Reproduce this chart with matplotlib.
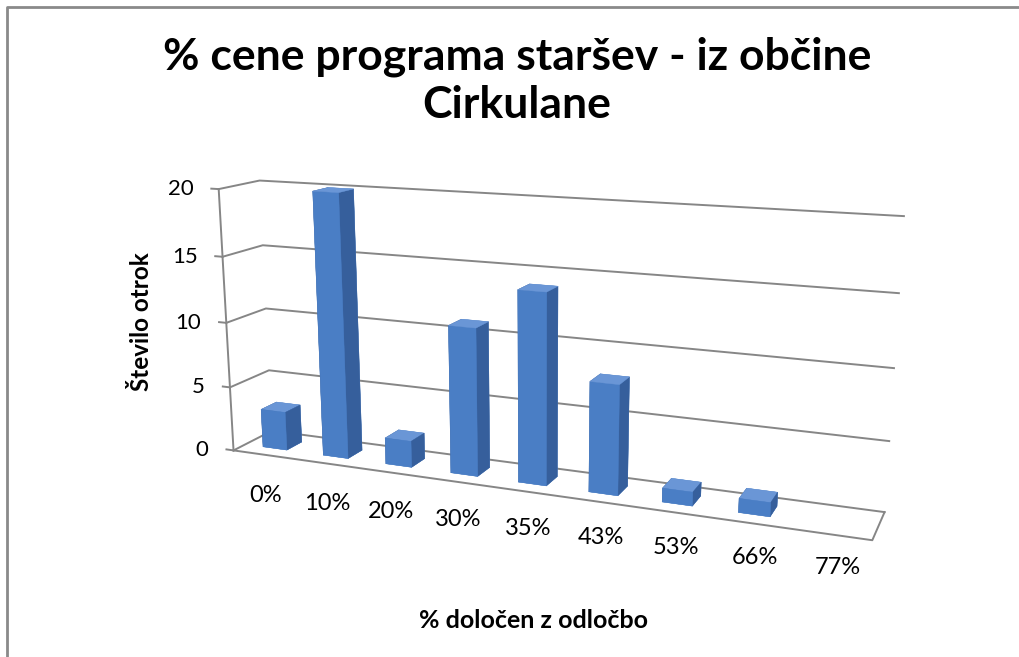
import matplotlib
matplotlib.use('Agg')
import matplotlib.pyplot as plt
import numpy as np
from mpl_toolkits.mplot3d import Axes3D, proj3d  # noqa

categories = ['0%', '10%', '20%', '30%', '35%', '43%', '53%', '66%', '77%']
values = [3, 20, 2, 11, 14, 8, 1, 1, 0]
value_ticks = [0, 5, 10, 15, 20]

title = '% cene programa staršev - iz občine\nCirkulane'
xlabel = '% določen z odločbo'
ylabel = 'Število otrok'

FONT = ['Lato', 'DejaVu Sans']
GRID = '#868686'
FRONT = '#4A7EC5'
SIDE = '#365F9C'
TOP = '#6A96D6'

W, H = 1020, 657
fig = plt.figure(figsize=(W / 100, H / 100), dpi=100)

S = 900
cx, cy = 538, 344
ax = fig.add_axes([(cx - 0.5135 * S) / W, (H - cy - 0.5135 * S) / H, S / W, S / H],
                  projection='3d', computed_zorder=False)
zoom = 0.806
ax.set_proj_type('persp', focal_length=0.348 * zoom)
ax.set_box_aspect((9, 1, 3.75), zoom=zoom)
ax.view_init(elev=14, azim=-68)
ax.set_axis_off()
n = len(categories)
ax.set_xlim(0, n)
ax.set_ylim(0, 1)
ax.set_zlim(0, 20)

# gridlines on side wall and back wall
for z in value_ticks:
    ax.plot([0, 0, n], [0, 1, 1], [z, z, z], color=GRID, lw=1.4, zorder=1)
# floor outline
ax.plot([0, n, n], [0, 0, 1], [0, 0, 0], color=GRID, lw=1.4, zorder=1)
# value axis line and ticks
ax.plot([0, 0], [0, 0], [0, 20], color=GRID, lw=1.4, zorder=1)
for z in value_ticks:
    ax.plot([-0.12, 0], [0, 0], [z, z], color=GRID, lw=1.4, zorder=1)

# bars
bw = 0.4
xs, ys, zs, dx, dy, dz, cols = [], [], [], [], [], [], []
for i, v in enumerate(values):
    if v <= 0:
        continue
    xs.append(i + 0.5 - bw / 2)
    ys.append(0.5 - bw / 2)
    zs.append(0)
    dx.append(bw)
    dy.append(bw)
    dz.append(v)
    cols.extend([FRONT, TOP, FRONT, FRONT, SIDE, SIDE])
ax.bar3d(xs, ys, zs, dx, dy, dz, color=cols, shade=False, edgecolor=cols,
         linewidth=0.3, zorder=3)

# project 3D anchor points to figure coordinates for the 2D labels
fig.canvas.draw()
M = ax.get_proj()
inv = fig.transFigure.inverted()


def to_fig(x, y, z, ox=0.0, oy=0.0):
    xp, yp, _ = proj3d.proj_transform(np.array([x]), np.array([y]), np.array([z]), M)
    d = ax.transData.transform((xp[0], yp[0]))
    return inv.transform((d[0] + ox, d[1] + oy))


for z in value_ticks:
    fx, fy = to_fig(0, 0, z, ox=-25)
    fig.text(fx, fy, str(z), ha='right', va='center', fontsize=16,
             family=FONT, color='black')

for i, c in enumerate(categories):
    fx, fy = to_fig(i + 0.5, 0, 4, ox=4.5, oy=-92)
    fig.text(fx, fy, c, ha='center', va='center', fontsize=17,
             family=FONT, color='black')

fig.text(0.507, 0.877, title, ha='center', va='center', fontsize=32,
         fontweight='bold', family=FONT, linespacing=1.26)
fig.text(0.139, 0.51, ylabel, ha='center', va='center', rotation=90,
         fontsize=17.5, fontweight='bold', family=FONT)
fig.text(0.5235, 0.056, xlabel, ha='center', va='center', fontsize=18,
         fontweight='bold', family=FONT)

# chart-area border (top and left edges visible)
fig.add_artist(plt.Line2D([7 / W, 7 / W, 1], [0, 1 - 6.5 / H, 1 - 6.5 / H],
                          transform=fig.transFigure, color='#8a8a8a', lw=2))

fig.savefig('out.png', dpi=100)
